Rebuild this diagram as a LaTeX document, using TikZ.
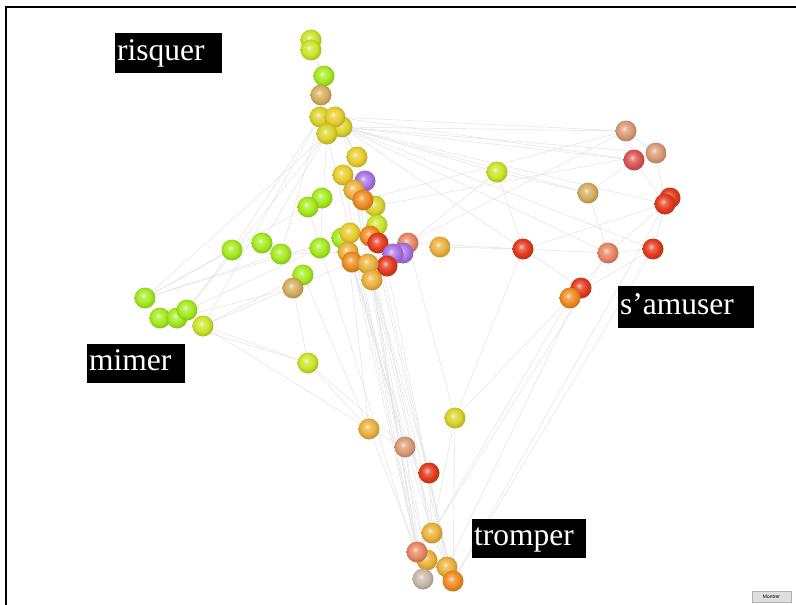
\documentclass[tikz,border=0pt]{standalone}
\usepackage{fontspec}
\setmainfont{Liberation Serif}
\setsansfont{Liberation Sans}
\usetikzlibrary{backgrounds}
\definecolor{ygreen}{RGB}{205,228,40}
\definecolor{lgreen}{RGB}{165,235,30}
\definecolor{tanc}{RGB}{212,175,95}
\definecolor{yellowc}{RGB}{232,205,45}
\definecolor{olivey}{RGB}{218,212,45}
\definecolor{orangec}{RGB}{240,140,35}
\definecolor{redc}{RGB}{228,60,30}
\definecolor{purplec}{RGB}{170,115,230}
\definecolor{salmonc}{RGB}{232,135,100}
\definecolor{pinkred}{RGB}{220,85,85}
\definecolor{goldc}{RGB}{235,178,60}
\definecolor{greytan}{RGB}{200,185,170}
\definecolor{pinktan}{RGB}{218,155,122}
\colorlet{spherec}{red}
\pgfdeclareradialshading[spherec]{sphereshade}{\pgfpoint{-5bp}{6bp}}{%
  color(0bp)=(spherec!25!white); color(7bp)=(spherec!75!white);
  color(17bp)=(spherec); color(27bp)=(spherec!82!black); color(50bp)=(spherec!70!black)}
\begin{document}
\begin{tikzpicture}[x=1pt,y=-1pt,
  sph/.style={circle,inner sep=0pt,minimum size=21pt,
    /utils/exec={\colorlet{spherec}{#1}},shading=sphereshade},
  edge/.style={draw=gray!22,line width=0.5pt},
  lbl/.style={fill=black,text=white,font=\fontsize{31.5}{31.5}\selectfont,
    inner xsep=2pt,inner ysep=0pt,text height=21pt,text depth=7pt,
    align=left,anchor=north west,minimum height=40pt}]
\useasboundingbox (0,0) rectangle (796,605);
% frame
\draw[line width=2pt] (6,605) -- (6,7) -- (796,7);
% top chain
\node[sph=ygreen] (t1) at (311,40) {};
\node[sph=ygreen] (t2) at (311,50) {};
\node[sph=lgreen] (t3) at (324,76) {};
\node[sph=tanc] (t4) at (321,95) {};
\node[sph=olivey] (c1) at (320,117) {};
\node[sph=olivey] (c3) at (342,127) {};
\node[sph=yellowc] (c2) at (335,117) {};
\node[sph=olivey] (c4) at (327,134) {};
% middle column
\node[sph=yellowc] (m1) at (357,157) {};
\node[sph=lgreen] (g1) at (322,198) {};
\node[sph=lgreen] (g2) at (308,207) {};
\node[sph=yellowc] (m2) at (343,175) {};
\node[sph=purplec] (pu1) at (365,181) {};
\node[sph=goldc] (m3) at (354,190) {};
\node[sph=olivey] (m5) at (375,206) {};
\node[sph=orangec] (m4) at (363,200) {};
\node[sph=ygreen] (m6) at (377,225) {};
% central cluster
\node[sph=lgreen] (k1) at (342,238) {};
\node[sph=yellowc] (k2) at (350,233) {};
\node[sph=goldc] (k3) at (348,252) {};
\node[sph=orangec] (k4) at (370,236) {};
\node[sph=redc] (k5) at (378,243) {};
\node[sph=salmonc] (k6) at (408,243) {};
\node[sph=purplec] (pu3) at (403,253) {};
\node[sph=purplec] (pu2) at (393,254) {};
\node[sph=orangec] (k7) at (352,262) {};
\node[sph=redc] (k9) at (387,266) {};
\node[sph=goldc] (k8) at (368,264) {};
\node[sph=goldc] (k10) at (372,280) {};
\node[sph=goldc] (k11) at (440,247) {};
% left group
\node[sph=lgreen] (g3) at (320,248) {};
\node[sph=lgreen] (g4) at (281,254) {};
\node[sph=lgreen] (g6) at (262,243) {};
\node[sph=lgreen] (g7) at (232,250) {};
\node[sph=lgreen] (g5) at (303,275) {};
\node[sph=tanc] (tn) at (293,288) {};
\node[sph=lgreen] (l1) at (145,298) {};
\node[sph=lgreen] (l2) at (160,318) {};
\node[sph=lgreen] (l3) at (177,318) {};
\node[sph=lgreen] (l4) at (187,310) {};
\node[sph=ygreen] (l5) at (203,326) {};
\node[sph=ygreen] (l6) at (308,363) {};
% right group
\node[sph=ygreen] (r1) at (497,172) {};
\node[sph=pinktan] (r2) at (626,131) {};
\node[sph=pinktan] (r3) at (656,153) {};
\node[sph=pinkred] (r4) at (634,160) {};
\node[sph=tanc] (r5) at (588,193) {};
\node[sph=redc] (r6b) at (670,198) {};
\node[sph=redc] (r6) at (665,204) {};
\node[sph=redc] (r7) at (523,249) {};
\node[sph=salmonc] (r8) at (608,253) {};
\node[sph=redc] (r9) at (653,249) {};
\node[sph=redc] (r10) at (581,288) {};
\node[sph=orangec] (r11) at (570,298) {};
% bottom group
\node[sph=goldc] (b1) at (369,429) {};
\node[sph=olivey] (b2) at (455,418) {};
\node[sph=pinktan] (b3) at (405,447) {};
\node[sph=redc] (b4) at (429,473) {};
\node[sph=goldc] (b5) at (432,533) {};
\node[sph=goldc] (b7) at (427,560) {};
\node[sph=salmonc] (b6) at (417,552) {};
\node[sph=goldc] (b8) at (447,567) {};
\node[sph=greytan] (b9) at (423,579) {};
\node[sph=orangec] (b10) at (453,581) {};
% edges
\begin{pgfonlayer}{background}
\fill[white] (0,0) rectangle (796,605);
\foreach \a/\b in {t2/t3,t3/t4,t4/c1,c2/m1,c3/m1,
  c3/r2,c3/r3,c3/r4,c3/r1,c3/r5,c3/r6,c2/r2,c3/r8,c3/r9,c2/r4,c3/r7,
  c4/l1,c4/l4,c1/g4,c1/g7,c4/g6,c1/l5,c4/g3,
  k7/b9,k8/b10,k10/b6,k3/b5,k7/b8,m3/b9,c4/b7,m2/b6,g2/b9,k9/b8,k10/b9,m4/b10,
  k8/b4,k7/b3,k3/b1,k10/b5,m3/b7,c3/b5,k2/b6,m1/b10,
  r11/b2,r11/b5,r10/b8,r9/b10,r7/b2,r8/b5,r6/b10,b2/b5,
  b2/k6,k6/r2,k6/r7,k11/r7,k6/r1,m5/r3,m4/r2,
  r2/r3,r2/r4,r4/r6,r3/r6,r6/r9,r6/r8,r5/r8,r7/r8,r8/r9,r7/r10,r1/r5,r1/r7,r9/r11,r4/r5,r6/r7,r8/r10,
  l1/g1,l1/g4,l1/k1,l4/g3,l5/g5,l5/l6,l4/g7,l1/g7,l3/tn,l5/k7,l5/b1,l2/l6,
  l6/b1,l6/b3,tn/l6,g5/b1,g4/k3,g7/g6,g6/g4,g4/g3,
  b1/b3,b3/b4,b4/b5,b1/b6,b3/b9,b2/b10,b5/b10}
  \draw[edge] (\a) -- (\b);
\end{pgfonlayer}
% labels
\node[lbl,text width=103pt] (risq) at (115,33) {risquer};
\node[lbl,text width=94pt,minimum height=39pt] (mim) at (87,344) {mimer};
\node[lbl,text width=132pt,minimum height=42pt] (sam) at (618,286) {s’amuser};
\node[lbl,text width=110pt,minimum height=39pt] (trom) at (472,519) {tromper};
% button
\node[draw=gray!60,fill=gray!25,inner sep=0pt,minimum width=39pt,minimum height=11pt,
  font=\sffamily\fontsize{5}{5}\selectfont] (btn) at (771.5,597) {Montrer};
\end{tikzpicture}
\end{document}
